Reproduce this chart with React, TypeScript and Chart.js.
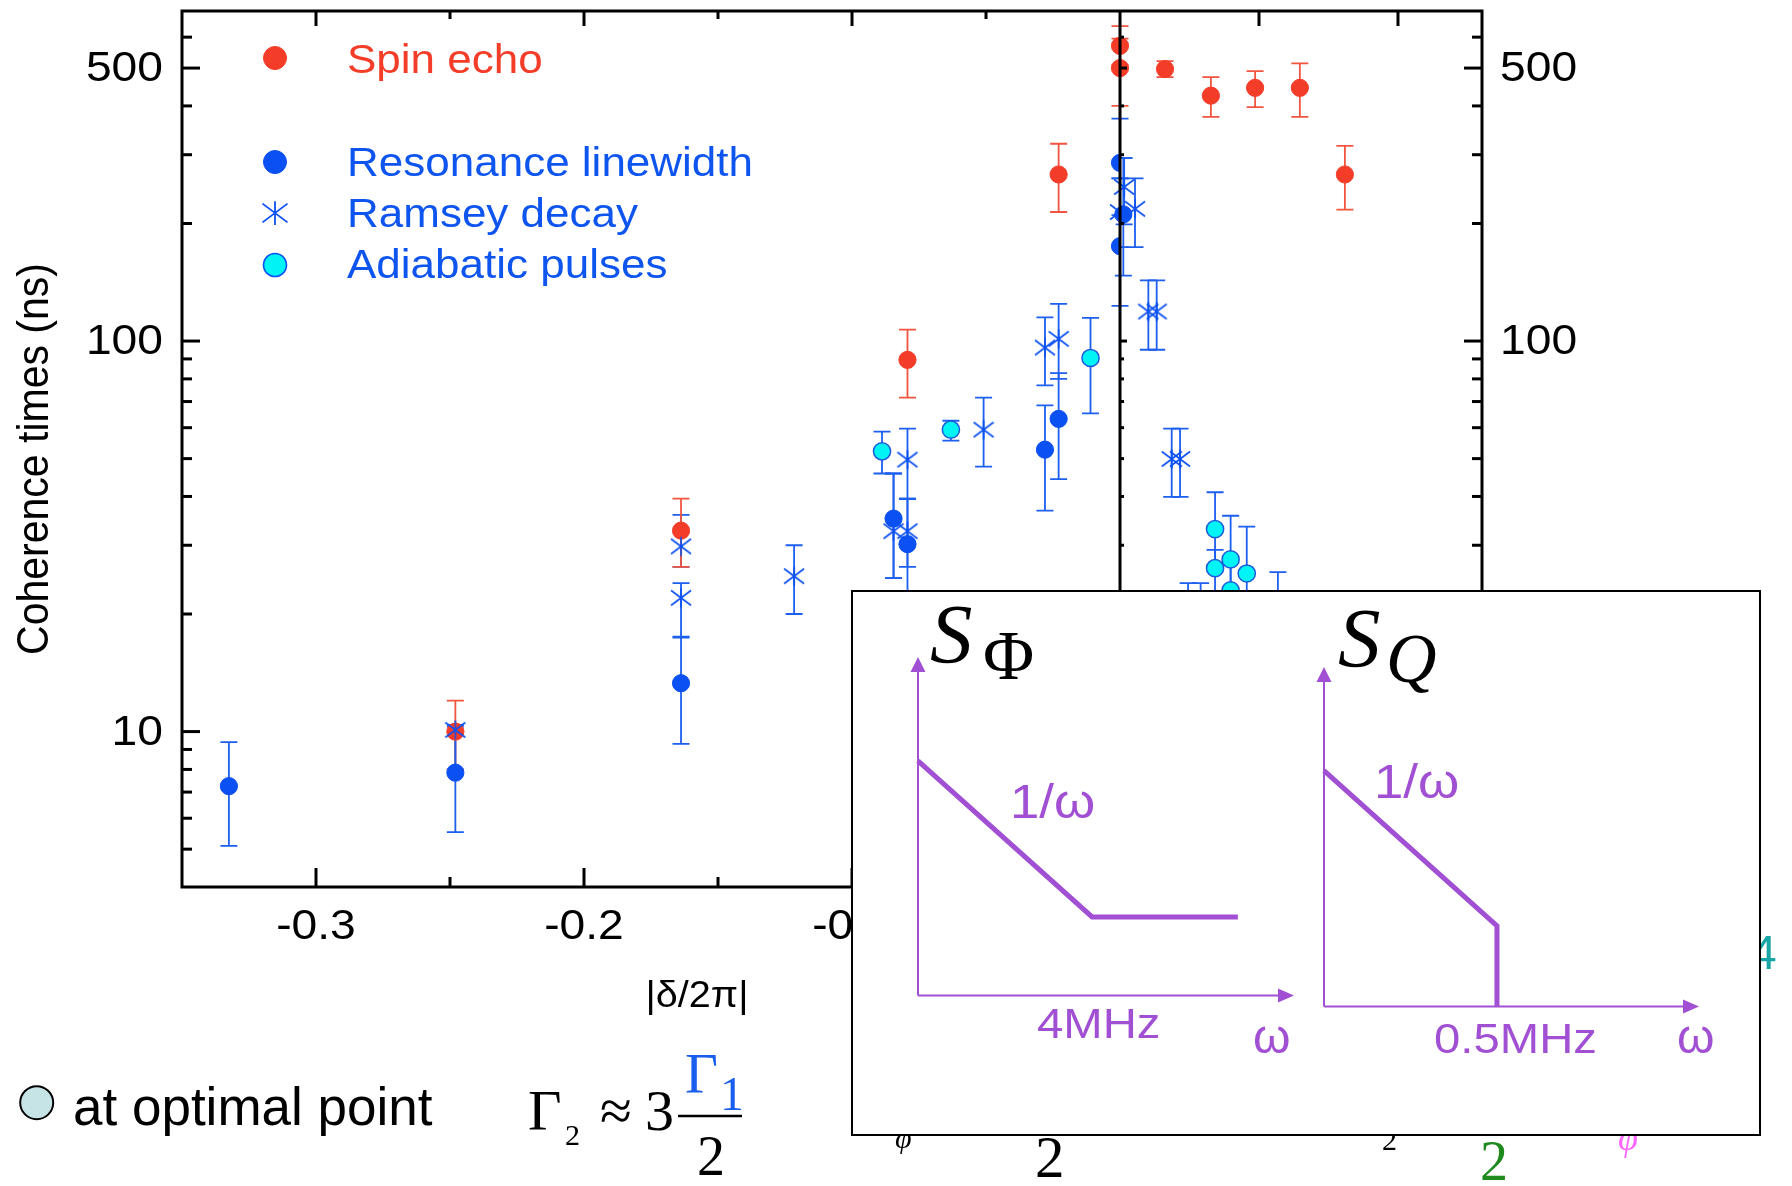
import React, { useEffect, useRef } from "react";
import { Chart, registerables } from "chart.js";

Chart.register(...registerables);

const W = 1792;
const H = 1186;

// ---------- main panel data (left panel uses scale x, right panel uses scale x2) ----------
const seLeftX = [-0.248, -0.1638, -0.0793, -0.0229];
const seLeftY = [10, 32.7, 89.5, 267];
const seLeftLo = [8.0, 26.4, 71.6, 214];
const seLeftHi = [12.0, 39.5, 107, 320];

const seRightX = [0, 0, 0.0162, 0.0327, 0.0486, 0.0647, 0.0809];
const seRightY = [570, 500, 497, 425, 445, 445, 267];
const seRightLo = [510, 400, 474, 375, 397, 375, 217];
const seRightHi = [640, 595, 521, 474, 491, 514, 316];

const rlLeftX = [-0.3325, -0.248, -0.1638, -0.0845, -0.0793, -0.028, -0.0229, 0, 0];
const rlLeftY = [7.25, 7.85, 13.3, 35.1, 30.2, 52.7, 63.2, 286, 175];
const rlLeftLo = [5.1, 5.53, 9.3, 24.7, 21, 36.8, 44.3, 210, 123];
const rlLeftHi = [9.4, 10.3, 17.5, 45.8, 39.4, 68.4, 82.8, 371, 261];

const rlRightX = [0.0012];
const rlRightY = [211];
const rlRightLo = [147];
const rlRightHi = [294];

const rdLeftX = [-0.248, -0.1638, -0.1638, -0.1216, -0.0845, -0.0793, -0.0793, -0.0509, -0.028, -0.0229, 0];
const rdLeftY = [10.1, 29.8, 22.0, 25.0, 32.6, 32.6, 49.7, 59.3, 96.2, 101.3, 214];
const rdLeftLo = [8.0, 26.4, 17.4, 20.0, 24.7, 26.4, 39.5, 47.7, 77, 80, 174];
const rdLeftHi = [10.4, 35.9, 24.0, 30.0, 45.8, 39.5, 59.7, 71.6, 115, 124.5, 261];

const rdRightX = [0.0054, 0.0015, 0.0102, 0.0132, 0.0186, 0.0216, 0.0245, 0.029, 0.0568];
const rdRightY = [218, 248, 119, 119, 49.9, 49.9, 18, 18, 19];
const rdRightLo = [174, 199, 95, 95, 39.9, 39.9, 14, 14, 15];
const rdRightHi = [261, 294, 143, 143, 59.7, 59.7, 24, 24, 25.6];

const apLeftX = [-0.0888, -0.0631, -0.011];
const apLeftY = [52.2, 59.3, 90.5];
const apLeftLo = [45.8, 55.6, 65.3];
const apLeftHi = [58.6, 62.5, 114.6];

const apRightX = [0.0342, 0.0342, 0.0398, 0.0456, 0.0398];
const apRightY = [33, 26.2, 27.6, 25.4, 23];
const apRightLo = [26.4, 22, 22, 21, 19];
const apRightHi = [41, 29.2, 35.7, 33.5, 27];

// ---------- ticks ----------
const yMajorTicks = [10, 100, 500];
const yMajorLabels = ["10", "100", "500"];
const yMinorTicks = [5, 6, 7, 8, 9, 20, 30, 40, 50, 60, 70, 80, 90, 200, 300, 400, 600];
const xMajorTicks = [-0.3, -0.2, -0.1];
const xMajorLabels = ["-0.3", "-0.2", "-0.1"];
const xMinorTicks = [-0.25, -0.15, -0.05];
const x2MajorTicks = [0.05, 0.1];

// ---------- inset schematic data ----------
const phiX = [0, 4, 7.35];
const phiY = [6.93, 2.32, 2.32];
const qX = [0, 0.5, 0.5];
const qY = [6.95, 2.37, 0];

const legendLabels = ["Spin echo", "Resonance linewidth", "Ramsey decay", "Adiabatic pulses"];

const RED = "#f43d29";
const RED_BAR = "#f2553f";
const BLUE = "#0b50f2";
const BLUE_BAR = "#1d5ff0";
const BLUE_TEXT = "#0e55f0";
const CYAN = "#00f3f5";
const PURPLE = "#a150d4";
const SANS = '"Liberation Sans", Arial, Helvetica, sans-serif';
const SERIF = '"Liberation Serif", "Times New Roman", serif';
const SX = 1.1;

function txt(
  ctx: CanvasRenderingContext2D,
  s: string,
  x: number,
  y: number,
  font: string,
  color: string,
  align: CanvasTextAlign = "left",
  sx = 1,
  baseline: CanvasTextBaseline = "alphabetic"
) {
  ctx.save();
  ctx.translate(x, y);
  ctx.scale(sx, 1);
  ctx.font = font;
  ctx.fillStyle = color;
  ctx.textAlign = align;
  ctx.textBaseline = baseline;
  ctx.fillText(s, 0, 0);
  ctx.restore();
}

function drawAsterisk(g: CanvasRenderingContext2D, x: number, y: number, r: number, color: string, lw: number) {
  g.save();
  g.strokeStyle = color;
  g.lineWidth = lw;
  g.beginPath();
  g.moveTo(x, y - r * 0.95);
  g.lineTo(x, y + r * 0.95);
  g.moveTo(x - r, y - r * 0.75);
  g.lineTo(x + r, y + r * 0.75);
  g.moveTo(x - r, y + r * 0.75);
  g.lineTo(x + r, y - r * 0.75);
  g.stroke();
  g.restore();
}

function makeAsterisk(size: number, color: string, lw: number) {
  const c = document.createElement("canvas");
  const s = Math.ceil(size + 2);
  c.width = s;
  c.height = s;
  const g = c.getContext("2d")!;
  drawAsterisk(g, s / 2, s / 2, size / 2, color, lw);
  return c;
}

function pts(xs: number[], ys: number[]) {
  return xs.map((x, i) => ({ x, y: ys[i] }));
}

const mainPlugin = {
  id: "mainFrame",
  beforeDatasetsDraw(chart: any) {
    const ctx: CanvasRenderingContext2D = chart.ctx;
    const ys = chart.scales.y;
    const { left, right, top, bottom } = chart.chartArea;
    ctx.save();
    ctx.beginPath();
    ctx.rect(left, top, right - left, bottom - top);
    ctx.clip();
    chart.data.datasets.forEach((ds: any) => {
      const xs = chart.scales[ds.xAxisID];
      ctx.strokeStyle = ds.errColor;
      ctx.lineWidth = 1.8;
      ds.data.forEach((p: any, j: number) => {
        const px = xs.getPixelForValue(p.x);
        const lo = ys.getPixelForValue(ds.errLo[j]);
        const hi = ys.getPixelForValue(ds.errHi[j]);
        ctx.beginPath();
        ctx.moveTo(px, lo);
        ctx.lineTo(px, hi);
        ctx.moveTo(px - 8.5, lo);
        ctx.lineTo(px + 8.5, lo);
        ctx.moveTo(px - 8.5, hi);
        ctx.lineTo(px + 8.5, hi);
        ctx.stroke();
      });
    });
    ctx.restore();
  },
  afterDatasetsDraw(chart: any) {
    const ctx: CanvasRenderingContext2D = chart.ctx;
    const { left, right, top, bottom } = chart.chartArea;
    const xs = chart.scales.x;
    const x2s = chart.scales.x2;
    const ys = chart.scales.y;
    const mid = xs.getPixelForValue(0);
    ctx.save();
    ctx.strokeStyle = "#000";
    ctx.lineWidth = 3;
    const line = (a: number, b: number, c: number, d: number) => {
      ctx.beginPath();
      ctx.moveTo(a, b);
      ctx.lineTo(c, d);
      ctx.stroke();
    };
    ctx.strokeRect(left, top, right - left, bottom - top);
    line(mid, top, mid, bottom);
    yMinorTicks.forEach((v) => {
      const py = ys.getPixelForValue(v);
      line(left, py, left + 10, py);
      line(right, py, right - 10, py);
      line(mid, py, mid + 4, py);
    });
    yMajorTicks.forEach((v) => {
      const py = ys.getPixelForValue(v);
      line(left, py, left + 18, py);
      line(right, py, right - 18, py);
      line(mid, py, mid + 7, py);
    });
    xMajorTicks.forEach((v) => {
      const px = xs.getPixelForValue(v);
      line(px, top, px, top + 15);
      line(px, bottom, px, bottom - 19);
    });
    xMinorTicks.forEach((v) => {
      const px = xs.getPixelForValue(v);
      line(px, top, px, top + 8);
      line(px, bottom, px, bottom - 10);
    });
    x2MajorTicks.forEach((v) => {
      const px = x2s.getPixelForValue(v);
      line(px, top, px, top + 15);
      line(px, bottom, px, bottom - 19);
    });
    ctx.restore();

    const tickFont = `42px ${SANS}`;
    yMajorTicks.forEach((v, i) => {
      const py = ys.getPixelForValue(v) + 13;
      txt(ctx, yMajorLabels[i], left - 19, py, tickFont, "#000", "right", SX);
      txt(ctx, yMajorLabels[i], right + 18, py, tickFont, "#000", "left", SX);
    });
    xMajorTicks.forEach((v, i) => {
      const px = xs.getPixelForValue(v);
      txt(ctx, xMajorLabels[i], px, bottom + 52, tickFont, "#000", "center", SX);
    });

    // axis titles
    ctx.save();
    ctx.translate(48, 459);
    ctx.rotate(-Math.PI / 2);
    ctx.scale(1, SX);
    ctx.font = `41px ${SANS}`;
    ctx.fillStyle = "#000";
    ctx.textAlign = "center";
    ctx.textBaseline = "alphabetic";
    ctx.fillText("Coherence times (ns)", 0, 0);
    ctx.restore();
    txt(ctx, "|δ/2π|", 697, 1007, `36px ${SANS}`, "#000", "center", SX);

    // legend
    const lx = 275;
    const tx = 347;
    const lfont = `40px ${SANS}`;
    const circ = (x: number, y: number, r: number, fill: string, stroke: string, lw: number) => {
      ctx.save();
      ctx.beginPath();
      ctx.arc(x, y, r, 0, Math.PI * 2);
      ctx.fillStyle = fill;
      ctx.fill();
      ctx.lineWidth = lw;
      ctx.strokeStyle = stroke;
      ctx.stroke();
      ctx.restore();
    };
    circ(lx, 58, 11.5, RED, RED, 1);
    txt(ctx, legendLabels[0], tx, 73, lfont, RED, "left", SX);
    circ(lx, 162, 11.5, BLUE, BLUE, 1);
    txt(ctx, legendLabels[1], tx, 176, lfont, BLUE_TEXT, "left", SX);
    drawAsterisk(ctx, lx, 213, 12.5, BLUE, 1.8);
    txt(ctx, legendLabels[2], tx, 227, lfont, BLUE_TEXT, "left", SX);
    circ(lx, 265, 11.5, CYAN, BLUE, 1.6);
    txt(ctx, legendLabels[3], tx, 278, lfont, BLUE_TEXT, "left", SX);

    // bottom-left note
    circ(36.7, 1102.7, 16.5, "#c6e4e6", "#000", 2);
    txt(ctx, "at optimal point", 73, 1125, `53px ${SANS}`, "#000");

    // formula
    txt(ctx, "Γ", 528, 1130, `58px ${SERIF}`, "#000");
    txt(ctx, "2", 565, 1145, `30px ${SERIF}`, "#000");
    txt(ctx, "≈", 600, 1130, `58px ${SERIF}`, "#000");
    txt(ctx, "3", 645, 1130, `58px ${SERIF}`, "#000");
    ctx.save();
    ctx.strokeStyle = "#000";
    ctx.lineWidth = 2.5;
    ctx.beginPath();
    ctx.moveTo(678, 1116);
    ctx.lineTo(742, 1116);
    ctx.stroke();
    ctx.restore();
    txt(ctx, "Γ", 685, 1093, `57px ${SERIF}`, "#1a5ef0");
    txt(ctx, "1", 720, 1110, `48px ${SERIF}`, "#1a5ef0");
    txt(ctx, "2", 697, 1175, `56px ${SERIF}`, "#000");

    // fragments of slide text behind the inset
    txt(ctx, "φ", 895, 1148, `italic 30px ${SERIF}`, "#000");
    txt(ctx, "2", 1035, 1177, `59px ${SERIF}`, "#000");
    txt(ctx, "2", 1382, 1150, `30px ${SERIF}`, "#000");
    txt(ctx, "2", 1480, 1180, `56px ${SERIF}`, "#1f8b1f");
    txt(ctx, "φ", 1618, 1150, `italic 36px ${SERIF}`, "#ff66ff");
    txt(ctx, "4", 1750, 969, `48px ${SANS}`, "#19a5a5");
  },
};

function insetPlugin(texts: (ctx: CanvasRenderingContext2D) => void) {
  return {
    id: "insetAxes",
    beforeDatasetsDraw(chart: any) {
      const ctx: CanvasRenderingContext2D = chart.ctx;
      const { left, right, top, bottom } = chart.chartArea;
      ctx.save();
      ctx.strokeStyle = PURPLE;
      ctx.fillStyle = PURPLE;
      ctx.lineWidth = 2;
      ctx.beginPath();
      ctx.moveTo(left, bottom);
      ctx.lineTo(left, top + 12);
      ctx.moveTo(left, bottom);
      ctx.lineTo(right - 12, bottom);
      ctx.stroke();
      ctx.beginPath();
      ctx.moveTo(left, top);
      ctx.lineTo(left - 7.5, top + 15);
      ctx.lineTo(left + 7.5, top + 15);
      ctx.closePath();
      ctx.fill();
      ctx.beginPath();
      ctx.moveTo(right, bottom);
      ctx.lineTo(right - 16, bottom - 7);
      ctx.lineTo(right - 16, bottom + 7);
      ctx.closePath();
      ctx.fill();
      ctx.restore();
    },
    afterDraw(chart: any) {
      texts(chart.ctx);
    },
  };
}

export default function App() {
  const mainRef = useRef<HTMLCanvasElement>(null);
  const phiRef = useRef<HTMLCanvasElement>(null);
  const qRef = useRef<HTMLCanvasElement>(null);

  useEffect(() => {
    const star = makeAsterisk(20, BLUE, 1.6);
    const leftClip = { left: 0, top: 0, right: -362, bottom: 0 };
    const circleDs = (label: string, xs: number[], ys: number[], lo: number[], hi: number[], axis: string, fill: string, stroke: string, bw: number, clip: any) => ({
      label,
      data: pts(xs, ys),
      xAxisID: axis,
      yAxisID: "y",
      pointStyle: "circle",
      pointRadius: 8.6,
      pointBackgroundColor: fill,
      pointBorderColor: stroke,
      pointBorderWidth: bw,
      errLo: lo,
      errHi: hi,
      errColor: fill === RED ? RED_BAR : BLUE_BAR,
      clip,
    });
    const starDs = (label: string, xs: number[], ys: number[], lo: number[], hi: number[], axis: string, clip: any) => ({
      label,
      data: pts(xs, ys),
      xAxisID: axis,
      yAxisID: "y",
      pointStyle: star,
      pointRadius: 10,
      errLo: lo,
      errHi: hi,
      errColor: BLUE_BAR,
      clip,
    });

    const datasets: any[] = [
      starDs("Ramsey decay", rdLeftX, rdLeftY, rdLeftLo, rdLeftHi, "x", leftClip),
      starDs("Ramsey decay", rdRightX, rdRightY, rdRightLo, rdRightHi, "x2", false),
      circleDs("Spin echo", seLeftX, seLeftY, seLeftLo, seLeftHi, "x", RED, RED, 1, leftClip),
      circleDs("Spin echo", seRightX, seRightY, seRightLo, seRightHi, "x2", RED, RED, 1, false),
      circleDs("Resonance linewidth", rlLeftX, rlLeftY, rlLeftLo, rlLeftHi, "x", BLUE, BLUE, 1, leftClip),
      circleDs("Resonance linewidth", rlRightX, rlRightY, rlRightLo, rlRightHi, "x2", BLUE, BLUE, 1, false),
      circleDs("Adiabatic pulses", apLeftX, apLeftY, apLeftLo, apLeftHi, "x", CYAN, "#1e5adc", 1.5, leftClip),
      circleDs("Adiabatic pulses", apRightX, apRightY, apRightLo, apRightHi, "x2", CYAN, "#1e5adc", 1.5, false),
    ];

    const common: any = {
      animation: false,
      responsive: false,
      devicePixelRatio: 1,
      events: [],
      plugins: { legend: { display: false }, tooltip: { enabled: false } },
    };

    const main = new Chart(mainRef.current!, {
      type: "scatter",
      data: { datasets },
      options: {
        ...common,
        layout: { padding: { left: 182, top: 10, right: 310, bottom: 299 } },
        scales: {
          x: { type: "linear", axis: "x", position: "bottom", min: -0.35, max: 0.13507, display: false },
          x2: { type: "linear", axis: "x", position: "bottom", min: -0.33741, max: 0.13022, display: false },
          y: { type: "logarithmic", min: 4, max: 700, display: false },
        },
      } as any,
      plugins: [mainPlugin as any],
    });

    const lineDs = (xs: number[], ys: number[]) => ({
      data: pts(xs, ys),
      showLine: true,
      borderColor: PURPLE,
      borderWidth: 5,
      pointRadius: 0,
      clip: false,
      borderJoinStyle: "miter",
      borderCapStyle: "butt",
    });

    const phi = new Chart(phiRef.current!, {
      type: "scatter",
      data: { datasets: [lineDs(phiX, phiY) as any] },
      options: {
        ...common,
        layout: { padding: { left: 918, top: 657, right: 498, bottom: 190.5 } },
        scales: {
          x: { type: "linear", min: 0, max: 8.64, display: false },
          y: { type: "linear", min: 0, max: 10, display: false },
        },
      } as any,
      plugins: [
        insetPlugin((ctx) => {
          txt(ctx, "S", 930, 663, `italic 85px ${SERIF}`, "#000");
          txt(ctx, "Φ", 983, 679, `70px ${SERIF}`, "#000");
          txt(ctx, "1/ω", 1010, 818, `48px ${SANS}`, PURPLE, "left", SX);
          txt(ctx, "4MHz", 1037, 1038, `43px ${SANS}`, PURPLE, "left", SX);
          txt(ctx, "ω", 1253, 1053, `48px ${SANS}`, PURPLE, "left", 1);
        }) as any,
      ],
    });

    const q = new Chart(qRef.current!, {
      type: "scatter",
      data: { datasets: [lineDs(qX, qY) as any] },
      options: {
        ...common,
        layout: { padding: { left: 1324, top: 667, right: 93, bottom: 179.6 } },
        scales: {
          x: { type: "linear", min: 0, max: 1.084, display: false },
          y: { type: "linear", min: 0, max: 10, display: false },
        },
      } as any,
      plugins: [
        insetPlugin((ctx) => {
          txt(ctx, "S", 1338, 667, `italic 85px ${SERIF}`, "#000");
          txt(ctx, "Q", 1386, 682, `italic 70px ${SERIF}`, "#000");
          txt(ctx, "1/ω", 1374, 798, `48px ${SANS}`, PURPLE, "left", SX);
          txt(ctx, "0.5MHz", 1434, 1053, `43px ${SANS}`, PURPLE, "left", SX);
          txt(ctx, "ω", 1677, 1053, `48px ${SANS}`, PURPLE, "left", 1);
        }) as any,
      ],
    });

    return () => {
      main.destroy();
      phi.destroy();
      q.destroy();
    };
  }, []);

  const abs: React.CSSProperties = { position: "absolute", left: 0, top: 0, width: W, height: H, display: "block" };

  return (
    <div style={{ position: "absolute", left: 0, top: 0, width: W, height: H, background: "#fff", overflow: "hidden" }}>
      <canvas ref={mainRef} width={W} height={H} style={abs} />
      <div
        style={{
          position: "absolute",
          left: 851,
          top: 590,
          width: 910,
          height: 546,
          boxSizing: "border-box",
          border: "2px solid #000",
          background: "#fff",
        }}
      />
      <canvas ref={phiRef} width={W} height={H} style={{ ...abs, pointerEvents: "none" }} />
      <canvas ref={qRef} width={W} height={H} style={{ ...abs, pointerEvents: "none" }} />
    </div>
  );
}
